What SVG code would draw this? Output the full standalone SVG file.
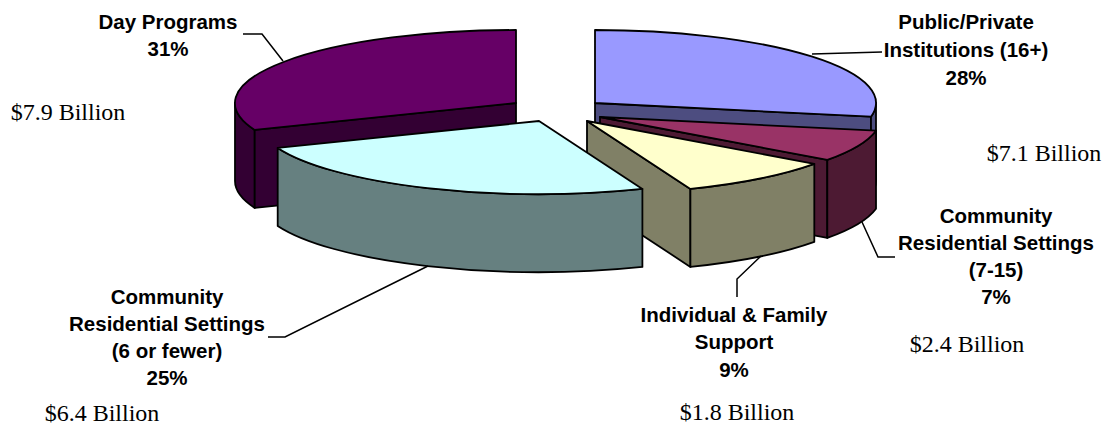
<svg xmlns="http://www.w3.org/2000/svg" width="1102" height="426" viewBox="0 0 1102 426">
<style>
  .edge { stroke: #000; stroke-width: 1.8; stroke-linejoin: round; }
  .lbl { font-family: "Liberation Sans", Arial, sans-serif; font-weight: bold; font-size: 20.5px; fill: #000; text-anchor: middle; }
  .amt { font-family: "Liberation Serif", "Times New Roman", serif; font-size: 24px; fill: #000; text-anchor: middle; }
  .lead { fill: none; stroke: #000; stroke-width: 1.5; }
</style>
<rect width="1102" height="426" fill="#fff"/>

<g id="slice-public-private">
  <path class="edge" fill="#4D4D80" d="M595,103 L871,116.7 L871,194.7 L595,181 Z"/>
  <path class="edge" fill="#4D4D80" d="M871,116.7 A281 73 0 0 0 876,103 L876,181 A281 73 0 0 1 871,194.7 Z"/>
  <path class="edge" fill="#9999FF" d="M595,103 L871,116.7 A281 73 0 0 0 595,30 Z"/>
</g>

<g id="slice-day-programs">
  <path class="edge" fill="#330033" d="M235,103 A281 73 0 0 0 254.7,129.9 L254.7,207.9 A281 73 0 0 1 235,181 Z"/>
  <path class="edge" fill="#330033" d="M516,103 L254.7,129.9 L254.7,207.9 L516,181 Z"/>
  <path class="edge" fill="#660066" d="M516,103 L516,30 A281 73 0 0 0 254.7,129.9 Z"/>
</g>

<g id="slice-community-7-15">
  <path class="edge" fill="#4D1A33" d="M600,117 L827.3,159.9 L827.3,237.9 L600,195 Z"/>
  <path class="edge" fill="#4D1A33" d="M827.3,159.9 A281 73 0 0 0 876,130.7 L876,208.7 A281 73 0 0 1 827.3,237.9 Z"/>
  <path class="edge" fill="#993366" d="M600,117 L827.3,159.9 A281 73 0 0 0 876,130.7 Z"/>
</g>

<g id="slice-individual-family">
  <path class="edge" fill="#808066" d="M587,121 L690.4,188.9 L690.4,266.9 L587,199 Z"/>
  <path class="edge" fill="#808066" d="M690.4,188.9 A281 73 0 0 0 814.3,163.9 L814.3,241.9 A281 73 0 0 1 690.4,266.9 Z"/>
  <path class="edge" fill="#FFFFCC" d="M587,121 L690.4,188.9 A281 73 0 0 0 814.3,163.9 Z"/>
</g>

<g id="slice-community-6">
  <path class="edge" fill="#668080" d="M277.7,147.9 A281 73 0 0 0 642.4,188.9 L642.4,266.9 A281 73 0 0 1 277.7,225.9 Z"/>
  <path class="edge" fill="#CCFFFF" d="M539,121 L277.7,147.9 A281 73 0 0 0 642.4,188.9 Z"/>
</g>

<g id="connectors">
  <polyline class="lead" points="243,34 262,34 283,61"/>
  <polyline class="lead" points="812,54 882,52"/>
  <polyline class="lead" points="862,222 878,257 895,257"/>
  <polyline class="lead" points="761,256 737,279 737,297"/>
  <polyline class="lead" points="268,337 285,337 428,266"/>
</g>

<g id="label-day-programs">
  <text class="lbl" x="168" y="29">Day Programs</text>
  <text class="lbl" x="168" y="56">31%</text>
  <text class="amt" x="68" y="120">$7.9 Billion</text>
</g>
<g id="label-public-private">
  <text class="lbl" x="966" y="29">Public/Private</text>
  <text class="lbl" x="966" y="57">Institutions (16+)</text>
  <text class="lbl" x="966" y="85">28%</text>
  <text class="amt" x="1044" y="161">$7.1 Billion</text>
</g>
<g id="label-community-7-15">
  <text class="lbl" x="996" y="223">Community</text>
  <text class="lbl" x="996" y="250">Residential Settings</text>
  <text class="lbl" x="996" y="277">(7-15)</text>
  <text class="lbl" x="996" y="304">7%</text>
  <text class="amt" x="967" y="352">$2.4 Billion</text>
</g>
<g id="label-individual-family">
  <text class="lbl" x="734" y="322">Individual &amp; Family</text>
  <text class="lbl" x="734" y="349">Support</text>
  <text class="lbl" x="734" y="377">9%</text>
  <text class="amt" x="737" y="420">$1.8 Billion</text>
</g>
<g id="label-community-6">
  <text class="lbl" x="167" y="304">Community</text>
  <text class="lbl" x="167" y="331">Residential Settings</text>
  <text class="lbl" x="167" y="358">(6 or fewer)</text>
  <text class="lbl" x="167" y="385">25%</text>
  <text class="amt" x="102" y="421">$6.4 Billion</text>
</g>
</svg>
